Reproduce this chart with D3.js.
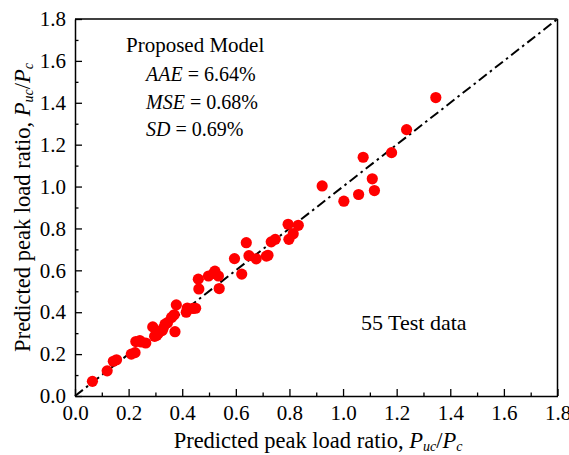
<!DOCTYPE html>
<html>
<head>
<meta charset="utf-8">
<script src="https://cdn.jsdelivr.net/npm/d3@7"></script>
<style>
  body { margin: 0; background: #fff; }
  svg text { font-family: "Times New Roman", "Liberation Serif", "DejaVu Serif", serif; }
</style>
</head>
<body>
<svg id="chart" width="569" height="455"></svg>
<script>
// Test data: analytical ratio (x) vs. predicted ratio (y)
const testX = [0.065, 0.12, 0.143, 0.155, 0.21, 0.224, 0.227, 0.242, 0.264, 0.29,
  0.297, 0.31, 0.325, 0.336, 0.373, 0.36, 0.37, 0.378, 0.415, 0.419,
  0.45, 0.46, 0.462, 0.498, 0.522, 0.535, 0.538, 0.595, 0.622, 0.639,
  0.649, 0.676, 0.72, 0.732, 0.747, 0.795, 0.833, 0.814, 0.798, 0.922,
  1.003, 1.058, 1.075, 1.109, 1.117, 1.181, 1.237, 1.346, 0.329, 0.714,
  0.305, 0.345, 0.517, 0.247, 0.44];
const testY = [0.07, 0.12, 0.166, 0.173, 0.2, 0.207, 0.26, 0.264, 0.253, 0.33,
  0.285, 0.298, 0.312, 0.343, 0.307, 0.375, 0.388, 0.435, 0.4, 0.42,
  0.419, 0.558, 0.511, 0.573, 0.596, 0.573, 0.513, 0.656, 0.582, 0.732,
  0.67, 0.655, 0.672, 0.736, 0.748, 0.82, 0.815, 0.775, 0.748, 1.003,
  0.93, 0.962, 1.14, 1.037, 0.981, 1.162, 1.272, 1.425, 0.323, 0.668,
  0.29, 0.35, 0.585, 0.258, 0.418];
const majorTicks = [0, 0.2, 0.4, 0.6, 0.8, 1.0, 1.2, 1.4, 1.6, 1.8];
const minorTicks = [0.1, 0.3, 0.5, 0.7, 0.9, 1.1, 1.3, 1.5, 1.7];
const statLabels = ["AAE", "MSE", "SD"];
const statValues = ["6.64%", "0.68%", "0.69%"];

const serif = "'Times New Roman', 'Liberation Serif', 'DejaVu Serif', serif";
const svg = d3.select("#chart");
const m = { left: 75, right: 557.5, top: 19, bottom: 396 };
const x = d3.scaleLinear().domain([0, 1.8]).range([m.left, m.right]);
const y = d3.scaleLinear().domain([0, 1.8]).range([m.bottom, m.top]);
const fmt = d3.format(".1f");

// Bottom axis: major and minor ticks point inward
svg.append("g").attr("transform", `translate(0,${m.bottom})`)
  .call(d3.axisBottom(x).tickValues(majorTicks).tickFormat(fmt).tickSizeInner(-7).tickSizeOuter(0).tickPadding(9));
svg.append("g").attr("transform", `translate(0,${m.bottom})`)
  .call(d3.axisBottom(x).tickValues(minorTicks).tickFormat("").tickSizeInner(-3.5).tickSizeOuter(0))
  .select(".domain").remove();

svg.append("g").attr("transform", `translate(${m.left},0)`)
  .call(d3.axisLeft(y).tickValues(majorTicks).tickFormat(fmt).tickSizeInner(-7).tickSizeOuter(0).tickPadding(9));
svg.append("g").attr("transform", `translate(${m.left},0)`)
  .call(d3.axisLeft(y).tickValues(minorTicks).tickFormat("").tickSizeInner(-3.5).tickSizeOuter(0))
  .select(".domain").remove();

svg.selectAll("g").attr("font-family", serif);
svg.selectAll(".tick line").attr("stroke", "#000").attr("stroke-width", 1.3);
svg.selectAll(".domain").attr("stroke", "#000").attr("stroke-width", 1.5);
svg.selectAll(".tick text").attr("font-size", 21).attr("fill", "#000");

// Frame top and right
svg.append("line").attr("x1", x(0)).attr("x2", x(1.8)).attr("y1", y(1.8)).attr("y2", y(1.8))
  .attr("stroke", "#000").attr("stroke-width", 1.5);
svg.append("line").attr("x1", x(1.8)).attr("x2", x(1.8)).attr("y1", y(0)).attr("y2", y(1.8))
  .attr("stroke", "#000").attr("stroke-width", 1.5);

// 1:1 reference line
svg.append("line")
  .attr("x1", x(0)).attr("y1", y(0)).attr("x2", x(1.8)).attr("y2", y(1.8))
  .attr("stroke", "#000").attr("stroke-width", 2)
  .attr("stroke-dasharray", "10,4,2.5,4");

// Data points
svg.append("g").selectAll("circle")
  .data(d3.range(testX.length))
  .join("circle")
  .attr("cx", i => x(testX[i]))
  .attr("cy", i => y(testY[i]))
  .attr("r", 5.6)
  .attr("fill", "#ff0000");

// Annotations
svg.append("text").attr("x", 126).attr("y", 52).attr("font-size", 21).attr("font-family", serif).text("Proposed Model");
const stats = svg.append("g").attr("font-size", 20).attr("font-family", serif);
statLabels.forEach((lab, i) => {
  const t = stats.append("text").attr("x", 146).attr("y", 81 + i * 27.5);
  t.append("tspan").attr("font-style", "italic").text(lab);
  t.append("tspan").text(" = " + statValues[i]);
});
svg.append("text").attr("x", 361).attr("y", 330).attr("font-size", 22).attr("font-family", serif).text("55 Test data");

// Axis titles
function ratioTitle(sel) {
  sel.append("tspan").text("Predicted peak load ratio, ");
  sel.append("tspan").attr("font-style", "italic").text("P");
  sel.append("tspan").attr("font-style", "italic").attr("font-size", 14).attr("dy", 3).text("uc");
  sel.append("tspan").attr("dy", -3).text("/");
  sel.append("tspan").attr("font-style", "italic").text("P");
  sel.append("tspan").attr("font-style", "italic").attr("font-size", 14).attr("dy", 3).text("c");
}
svg.append("text").attr("x", 318).attr("y", 448).attr("text-anchor", "middle")
  .attr("font-size", 22.5).attr("font-family", serif).call(ratioTitle);
svg.append("text").attr("transform", `translate(30,${(m.top + m.bottom) / 2}) rotate(-90)`)
  .attr("text-anchor", "middle").attr("font-size", 22.5).attr("font-family", serif).call(ratioTitle);
</script>
</body>
</html>
